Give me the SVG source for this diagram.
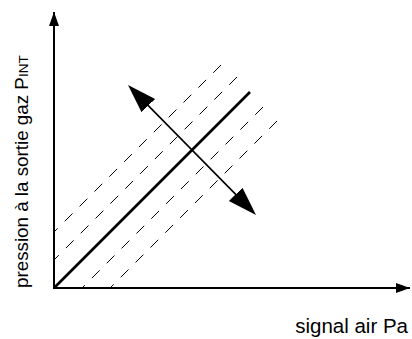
<svg xmlns="http://www.w3.org/2000/svg" width="412" height="339" viewBox="0 0 412 339">
<style>
.axis{stroke:#000;stroke-width:2;fill:none}
.main{stroke:#000;stroke-width:2.6;fill:none}
.dash{stroke:#000;stroke-width:1;fill:none;stroke-dasharray:11 10}
.dbl{stroke:#000;stroke-width:1.6;fill:none}
.lbl{font-family:"Liberation Sans",Arial,sans-serif;font-size:20.5px;fill:#000}
.vl{font-size:18.8px}
</style>
<defs>
<marker id="ah" markerUnits="userSpaceOnUse" markerWidth="16" markerHeight="12" refX="14" refY="5" orient="auto"><path d="M0,0 L14,5 L0,10 z" fill="#000"/></marker>
<marker id="bh" markerUnits="userSpaceOnUse" markerWidth="32" markerHeight="22" refX="19" refY="9.5" orient="auto-start-reverse"><path d="M0,0 L29,9.5 L0,19 z" fill="#000"/></marker>
</defs>
<g id="axes">
<line class="axis" x1="54" y1="289" x2="54" y2="12" marker-end="url(#ah)"/>
<line class="axis" x1="53" y1="288" x2="410" y2="288" marker-end="url(#ah)"/>
</g>
<g id="lines">
<line class="main" x1="54" y1="288" x2="250" y2="92"/>
<line class="dash" x1="221" y1="65" x2="54" y2="232"/>
<line class="dash" x1="237" y1="77" x2="54" y2="260"/>
<line class="dash" x1="263" y1="107" x2="82" y2="288"/>
<line class="dash" x1="277" y1="121" x2="110" y2="288"/>
</g>
<g id="connectors">
<line class="dbl" x1="135.0" y1="92.1" x2="249.0" y2="207.9" marker-start="url(#bh)" marker-end="url(#bh)"/>
</g>
<g id="labels">
<text class="lbl" x="408" y="333" text-anchor="end">signal air Pa</text>
<text class="lbl vl" transform="translate(27.5,288) rotate(-90)">pression à la sortie gaz P<tspan font-size="13.5">INT</tspan></text>
</g>
</svg>
